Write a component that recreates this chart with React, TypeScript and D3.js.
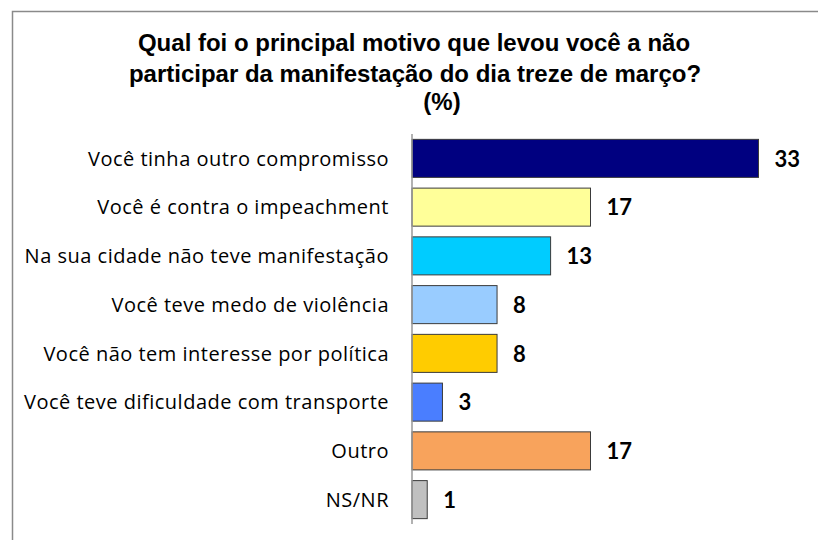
import React from "react";
import * as d3 from "d3";

const categories = [
  "Você tinha outro compromisso",
  "Você é contra o impeachment",
  "Na sua cidade não teve manifestação",
  "Você teve medo de violência",
  "Você não tem interesse por política",
  "Você teve dificuldade com transporte",
  "Outro",
  "NS/NR",
];
const values = [33, 17, 13.2, 8.1, 8.1, 2.9, 17, 1.45];
const barColors = [
  "#000080",
  "#FFFF99",
  "#00CCFF",
  "#99CCFF",
  "#FFCC00",
  "#4A7EFF",
  "#F8A35C",
  "#C0C0C0",
];
const titleLines = [
  "Qual foi o principal motivo que levou você a não",
  "participar da manifestação do dia treze de março?",
  "(%)",
];

export default function App() {
  const W = 818;
  const H = 540;
  const axisX = 412;
  const y = d3
    .scaleBand<string>()
    .domain(categories)
    .range([134, 524])
    .paddingInner(0.22)
    .paddingOuter(0.11);
  const x = d3.scaleLinear().domain([0, 35]).range([axisX, axisX + 35 * 10.5]);

  const titleX = [414, 415, 442];
  const titleY = [51, 82, 110];

  return (
    <svg
      width={W}
      height={H}
      style={{ position: "absolute", left: 0, top: 0, background: "#fff" }}
    >
      <rect x={0} y={0} width={W} height={H} fill="#fff" />
      <rect
        x={12.5}
        y={11.5}
        width={W + 20}
        height={H + 20}
        fill="none"
        stroke="#8a8a8a"
        strokeWidth={1.5}
      />
      {titleLines.map((t, i) => (
        <text
          key={i}
          x={titleX[i]}
          y={titleY[i]}
          textAnchor="middle"
          fontFamily="Liberation Sans, Arial, sans-serif"
          fontWeight="bold"
          fontSize={24}
          fill="#000"
        >
          {t}
        </text>
      ))}
      {categories.map((c, i) => {
        const by = y(c)!;
        const bh = y.bandwidth();
        const v = values[i];
        return (
          <g key={c}>
            <rect
              x={x(0)}
              y={by}
              width={x(v) - x(0)}
              height={bh}
              fill={barColors[i]}
              stroke="#3a3a3a"
              strokeWidth={1}
            />
            <text
              x={389}
              y={by + bh / 2}
              dy="0.36em"
              textAnchor="end"
              fontFamily="'Open Sans', Lato, sans-serif"
              fontSize={20}
              letterSpacing={0.5}
              fill="#000"
            >
              {c}
            </text>
            <text
              x={x(v) + 16}
              y={by + bh / 2}
              dy="0.38em"
              fontFamily="Lato, 'Open Sans', sans-serif"
              fontWeight="bold"
              fontSize={22}
              fill="#000"
            >
              {Math.round(v)}
            </text>
          </g>
        );
      })}
      <line
        x1={axisX}
        x2={axisX}
        y1={134}
        y2={524}
        stroke="#999"
        strokeWidth={1.5}
      />
    </svg>
  );
}
